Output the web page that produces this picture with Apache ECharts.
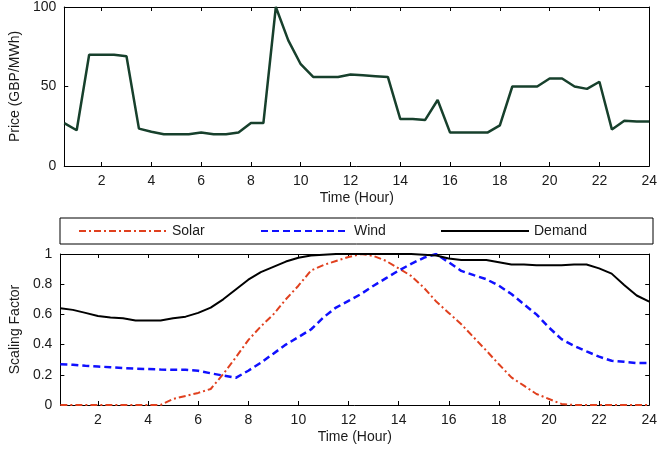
<!DOCTYPE html>
<html>
<head>
<meta charset="utf-8">
<script src="https://cdn.jsdelivr.net/npm/echarts@6/dist/echarts.min.js"></script>
<style>
  html, body { margin: 0; padding: 0; background: #fff; }
  #chart { width: 660px; height: 453px; }
</style>
</head>
<body>
<div id="chart"></div>
<script>
// half-hour time steps
const hours = [0.5, 1, 1.5, 2, 2.5, 3, 3.5, 4, 4.5, 5, 5.5, 6, 6.5, 7, 7.5, 8,
  8.5, 9, 9.5, 10, 10.5, 11, 11.5, 12, 12.5, 13, 13.5, 14, 14.5, 15, 15.5, 16,
  16.5, 17, 17.5, 18, 18.5, 19, 19.5, 20, 20.5, 21, 21.5, 22, 22.5, 23, 23.5, 24]

const price = [27, 22.5, 70, 70, 70, 69, 23.5, 21.5, 20, 20, 20, 21, 20, 20, 21, 27,
  27, 100, 79, 64, 56, 56, 56, 57.5, 57, 56.5, 56, 29.5, 29.5, 29, 41.5, 21,
  21, 21, 21, 25.5, 50, 50, 50, 55, 55, 50, 48.5, 53, 23, 28.5, 28, 28]

const solar = [0, 0, 0, 0, 0, 0, 0, 0, 0, 0.04, 0.06, 0.08, 0.106, 0.205, 0.315, 0.43,
  0.52, 0.6, 0.7, 0.79, 0.89, 0.927, 0.954, 0.98, 1.0, 0.987, 0.954, 0.905, 0.855, 0.778, 0.685, 0.61,
  0.535, 0.447, 0.36, 0.27, 0.183, 0.128, 0.073, 0.04, 0.007, 0, 0, 0, 0, 0, 0, 0]

const wind = [0.27, 0.267, 0.26, 0.255, 0.25, 0.245, 0.24, 0.238, 0.235, 0.233, 0.233, 0.227, 0.21, 0.195, 0.18, 0.227,
  0.28, 0.34, 0.4, 0.45, 0.5, 0.58, 0.645, 0.69, 0.735, 0.79, 0.84, 0.89, 0.935, 0.975, 1.0, 0.945,
  0.888, 0.86, 0.833, 0.79, 0.735, 0.667, 0.6, 0.513, 0.436, 0.392, 0.355, 0.32, 0.293, 0.286, 0.278, 0.278]

const demand = [0.64, 0.63, 0.61, 0.59, 0.58, 0.575, 0.56, 0.56, 0.56, 0.575, 0.585, 0.61, 0.645, 0.7, 0.765, 0.83,
  0.88, 0.915, 0.95, 0.975, 0.99, 0.995, 1.0, 1.0, 1.0, 1.0, 1.0, 1.0, 1.0, 0.995, 0.99, 0.97,
  0.96, 0.96, 0.96, 0.945, 0.93, 0.93, 0.925, 0.925, 0.925, 0.93, 0.93, 0.905, 0.87, 0.795, 0.725, 0.685]

const hourTicks = [2, 4, 6, 8, 10, 12, 14, 16, 18, 20, 22, 24]
const priceTicks = [0, 50, 100]
const factorTicks = [0, 0.2, 0.4, 0.6, 0.8, 1]

const textColor = '#1a1a1a'
const font = 'Liberation Sans, Arial, sans-serif'

function pairs(ys) {
  return hours.map((h, i) => [h, ys[i]])
}

function xAx(gridIndex, position, labelled) {
  return {
    type: 'value',
    gridIndex,
    position,
    min: 0.5,
    max: 24,
    name: labelled ? 'Time (Hour)' : '',
    nameLocation: 'middle',
    nameGap: 25,
    nameTextStyle: { color: textColor, fontSize: 14, fontFamily: font },
    axisLine: { show: true, onZero: false, lineStyle: { color: '#000', width: 1 } },
    axisTick: { show: true, inside: true, length: 4, customValues: hourTicks, lineStyle: { color: '#000' } },
    axisLabel: { show: labelled, customValues: hourTicks, color: textColor, fontSize: 14, fontFamily: font, margin: 8 },
    splitLine: { show: false }
  }
}

function yAx(gridIndex, position, ticks, max, title) {
  return {
    type: 'value',
    gridIndex,
    position,
    min: 0,
    max,
    name: title || '',
    nameLocation: 'middle',
    nameGap: 38,
    nameTextStyle: { color: textColor, fontSize: 14, fontFamily: font },
    axisLine: { show: true, onZero: false, lineStyle: { color: '#000', width: 1 } },
    axisTick: { show: true, inside: true, length: 4, customValues: ticks, lineStyle: { color: '#000' } },
    axisLabel: { show: !!title, customValues: ticks, color: textColor, fontSize: 14, fontFamily: font, margin: 8 },
    splitLine: { show: false }
  }
}

// one legend per entry so the samples sit at even spacing like the original
function legendAt(name, left) {
  return {
    data: [name],
    left,
    top: 224,
    padding: 0,
    itemWidth: 88,
    itemHeight: 14,
    itemStyle: { color: 'rgba(0,0,0,0)', borderWidth: 0 },
    textStyle: { color: textColor, fontSize: 14, fontFamily: font }
  }
}

const chart = echarts.init(document.getElementById('chart'), null, { renderer: 'canvas' })

chart.setOption({
  animation: false,
  backgroundColor: '#fff',
  grid: [
    { left: 60, right: 7, top: 6, height: 160 },
    { left: 60, right: 7, top: 254, height: 151 }
  ],
  xAxis: [
    xAx(0, 'bottom', true),
    xAx(0, 'top', false),
    xAx(1, 'bottom', true),
    xAx(1, 'top', false)
  ],
  yAxis: [
    yAx(0, 'left', priceTicks, 100, 'Price (GBP/MWh)'),
    yAx(0, 'right', priceTicks, 100, ''),
    yAx(1, 'left', factorTicks, 1, 'Scaling Factor'),
    yAx(1, 'right', factorTicks, 1, '')
  ],
  legend: [
    legendAt('Solar', 78),
    legendAt('Wind', 260),
    legendAt('Demand', 440)
  ],
  graphic: [{
    type: 'rect',
    shape: { x: 60, y: 218, width: 593, height: 26 },
    style: { fill: 'none', stroke: '#000', lineWidth: 1 },
    silent: true
  }],
  series: [
    {
      name: 'Price',
      type: 'line',
      xAxisIndex: 0,
      yAxisIndex: 0,
      data: pairs(price),
      symbol: 'none',
      lineStyle: { color: '#17402c', width: 2.5 }
    },
    {
      name: 'Solar',
      type: 'line',
      xAxisIndex: 2,
      yAxisIndex: 2,
      data: pairs(solar),
      symbol: 'none',
      itemStyle: { color: '#e0401e' },
      lineStyle: { color: '#e0401e', width: 2, type: [7, 3, 2, 3] }
    },
    {
      name: 'Wind',
      type: 'line',
      xAxisIndex: 2,
      yAxisIndex: 2,
      data: pairs(wind),
      symbol: 'none',
      itemStyle: { color: '#1010ff' },
      lineStyle: { color: '#1010ff', width: 2.5, type: [7, 4] }
    },
    {
      name: 'Demand',
      type: 'line',
      xAxisIndex: 2,
      yAxisIndex: 2,
      data: pairs(demand),
      symbol: 'none',
      itemStyle: { color: '#000' },
      lineStyle: { color: '#000', width: 2 }
    }
  ]
})
</script>
</body>
</html>
